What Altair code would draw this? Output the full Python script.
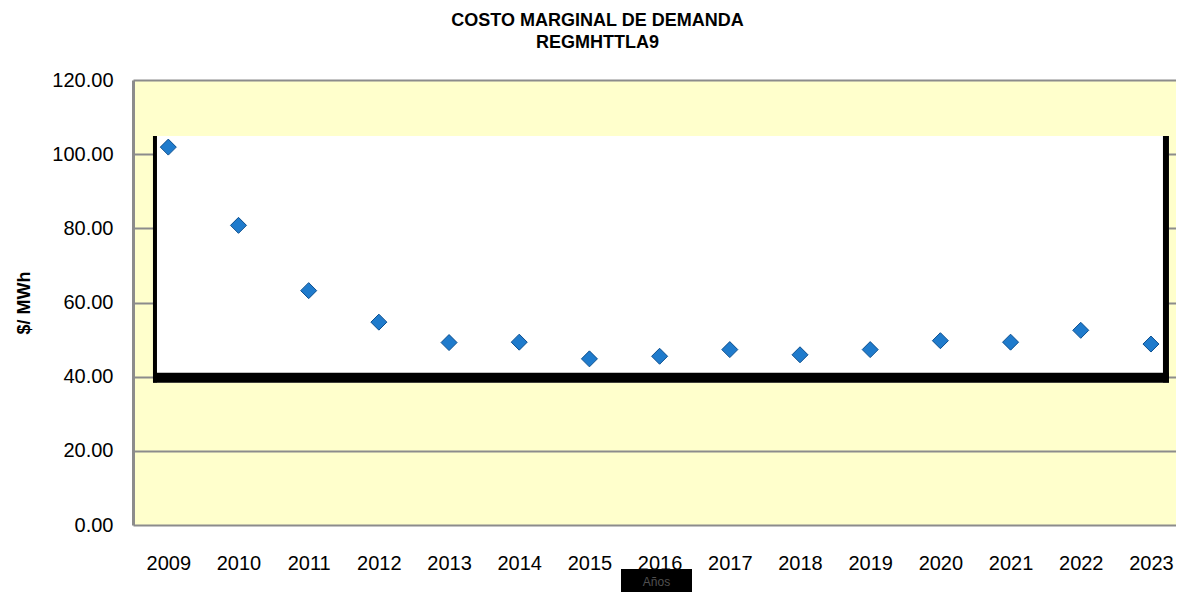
import altair as alt
import pandas as pd

years = list(range(2009, 2024))
costs = [101.9, 80.8, 63.2, 54.7, 49.2, 49.3, 44.8, 45.5, 47.3, 45.9, 47.3, 49.7, 49.3, 52.5, 48.8]
y_ticks = [0, 20, 40, 60, 80, 100, 120]
title_lines = ["COSTO MARGINAL DE DEMANDA", "REGMHTTLA9"]
y_title = "$/ MWh"
x_title = "Años"

FONT = "Liberation Sans, Arial, Helvetica, sans-serif"

df = pd.DataFrame({"year": years, "cost": costs})

x_scale = alt.Scale(domain=[2008.497, 2023.357], nice=False, zero=False)
y_scale = alt.Scale(domain=[0, 120], nice=False, zero=True)

x_axis = alt.Axis(
    values=years, format="d", title=None, grid=False, ticks=False, domain=False,
    labelFontSize=20, labelFont=FONT, labelColor="black", labelPadding=28,
    labelFlush=False, labelOverlap=False,
)
y_axis = alt.Axis(
    values=y_ticks, format=".2f", title=y_title, grid=True, gridColor="#8c8c8c",
    gridWidth=2, ticks=False, domain=True, domainColor="#8c8c8c", domainWidth=3,
    labelFontSize=20, labelFont=FONT, labelColor="black", labelPadding=20,
    titleFont=FONT, titleFontSize=18, titleFontWeight="bold", titleColor="black",
    titlePadding=18, labelFlush=False,
)

W, H = 1043, 445


def X(f):
    return alt.X(f, scale=x_scale, axis=x_axis)


def Y(f):
    return alt.Y(f, scale=y_scale, axis=y_axis)


# white inner panel with black frame (decoration)
box = pd.DataFrame({"year": [2008.81], "year2": [2023.257], "cost": [104.9], "cost2": [38.4]})
white_box = alt.Chart(box).mark_rect(color="white").encode(
    x=X("year:Q"), x2="year2:Q", y=Y("cost:Q"), y2="cost2:Q",
)
left_line = alt.Chart(box).mark_rule(color="black", strokeWidth=4).encode(
    x=X("year:Q"), y=Y("cost:Q"), y2="cost2:Q",
)
rbox = pd.DataFrame({"year": [2023.214], "cost": [104.9], "cost2": [38.4]})
right_line = alt.Chart(rbox).mark_rule(color="black", strokeWidth=6).encode(
    x=X("year:Q"), y=Y("cost:Q"), y2="cost2:Q",
)
bbox = pd.DataFrame({"year": [2008.782], "year2": [2023.257], "cost": [41.08], "cost2": [38.38]})
bottom_band = alt.Chart(bbox).mark_rect(color="black").encode(
    x=X("year:Q"), x2="year2:Q", y=Y("cost:Q"), y2="cost2:Q",
)

points = alt.Chart(df).mark_point(
    shape="diamond", filled=True, size=256, color="#1f7bcc", stroke="#0c4f8f", strokeWidth=1, opacity=1
).encode(x=X("year:Q"), y=Y("cost:Q"))

one = pd.DataFrame({"k": [0]})
anos_box = alt.Chart(one).mark_rect(color="black").encode(
    x=alt.value(488), x2=alt.value(559), y=alt.value(489), y2=alt.value(520)
)
anos_text = alt.Chart(one).mark_text(
    text=x_title, font=FONT, fontSize=12, color="#505050", align="center", baseline="middle"
).encode(x=alt.value(523.5), y=alt.value(502))

chart = alt.layer(
    white_box, left_line, right_line, bottom_band, points, anos_box, anos_text
).properties(
    width=W,
    height=H,
    autosize=alt.AutoSizeParams(type="none"),
    padding={"left": 125, "top": 72, "right": 0, "bottom": 67},
    background="white",
    title=alt.TitleParams(
        text=title_lines, font=FONT, fontSize=18, fontWeight="bold", color="black",
        anchor="middle", dx=-57, offset=18, lineHeight=22,
    ),
).configure_view(fill="#FFFFCC", stroke="transparent")

chart.save("out.html", embed_options={"renderer": "svg", "actions": False})
